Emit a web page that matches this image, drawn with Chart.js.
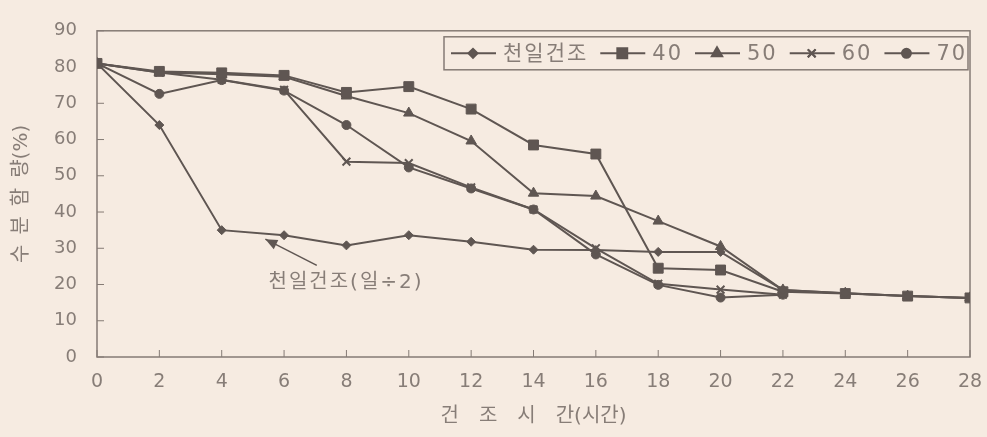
<!DOCTYPE html>
<html>
<head>
<meta charset="utf-8">
<script src="https://cdn.jsdelivr.net/npm/chart.js@4"></script>
<style>
  html, body { margin: 0; padding: 0; background: #f6ebe1; }
  canvas { display: block; }
</style>
</head>
<body>
<canvas id="drying-chart" width="987" height="437"></canvas>
<script>
// drying time (hours) vs moisture content (%)
const hours = [0, 2, 4, 6, 8, 10, 12, 14, 16, 18, 20, 22, 24, 26, 28];
const seriesNames = ['천일건조', '40', '50', '60', '70'];

const sunDry = [81, 64, 35, 33.6, 30.8, 33.6, 31.8, 29.6, 29.5, 29, 29, 18.5, 17.6, 16.8, 16.3];
const dry40 = [81, 78.8, 78.4, 77.7, 73, 74.6, 68.4, 58.5, 56, 24.5, 24, 18, 17.5, 16.8, 16.3];
const dry50 = [81, 78.5, 78, 77.3, 72, 67.3, 59.6, 45.2, 44.4, 37.5, 30.5, 18.5, 17.6, 16.8, 16.3];
const dry60 = [81, 78.5, 76.5, 73.7, 53.9, 53.5, 46.8, 40.7, 30, 20.2, 18.6, 17.2];
const dry70 = [81, 72.6, 76.4, 73.5, 64, 52.3, 46.5, 40.7, 28.3, 19.9, 16.4, 17.2];

const xTitle = '건\u2003조\u2003시\u2003간(시간)';
const yTitle = '수\u2002분\u2002함\u2002량(%)';

// label + arrow pointing at the sun-dried line
const note = { text: '천일건조(일÷2)', x: 5.5, y: 20.6, fromX: 7.05, fromY: 25.3, toX: 5.4, toY: 32.5 };

const ink = '#5f5652';
const textGray = '#877d77';
const bg = '#f6ebe1';
const fontFamily = '"DejaVu Sans", "Noto Sans CJK KR", sans-serif';

function toPoints(values) {
    return values.map((v, i) => ({ x: hours[i], y: v }));
}

const markers = [
    { style: 'rectRot', radius: 4.5 },
    { style: 'rect', radius: 7 },
    { style: 'triangle', radius: 6 },
    { style: 'crossRot', radius: 5.5 },
    { style: 'circle', radius: 4.5 }
];

const datasets = [sunDry, dry40, dry50, dry60, dry70].map((vals, i) => ({
    label: seriesNames[i],
    data: toPoints(vals),
    borderColor: ink,
    backgroundColor: ink,
    borderWidth: 2,
    pointStyle: markers[i].style,
    pointRadius: markers[i].radius,
    pointBorderWidth: markers[i].style === 'crossRot' ? 2 : 1,
    pointBackgroundColor: ink,
    pointBorderColor: ink,
    tension: 0
}));

const framePlugin = {
    id: 'frame',
    beforeDatasetsDraw(chart) {
        const ctx = chart.ctx;
        const a = chart.chartArea;
        const xs = chart.scales.x, ys = chart.scales.y;
        ctx.save();
        ctx.strokeStyle = '#857b75';
        ctx.lineWidth = 1.5;
        ctx.strokeRect(a.left, a.top, a.right - a.left, a.bottom - a.top);
        ctx.lineWidth = 1;
        ctx.beginPath();
        xs.ticks.forEach(t => {
            const px = xs.getPixelForValue(t.value);
            ctx.moveTo(px, a.bottom);
            ctx.lineTo(px, a.bottom - 7);
        });
        ys.ticks.forEach(t => {
            const py = ys.getPixelForValue(t.value);
            ctx.moveTo(a.left, py);
            ctx.lineTo(a.left + 7, py);
        });
        ctx.stroke();
        ctx.restore();
    },
    afterDatasetsDraw(chart) {
        const ctx = chart.ctx;
        const a = chart.chartArea;
        const xs = chart.scales.x, ys = chart.scales.y;
        ctx.save();

        // legend box in the top right corner
        const boxTop = a.top + 6, boxBottom = a.top + 39;
        const boxLeft = 444, boxRight = a.right - 2;
        ctx.fillStyle = bg;
        ctx.fillRect(boxLeft, boxTop, boxRight - boxLeft, boxBottom - boxTop);
        ctx.strokeStyle = '#857b75';
        ctx.lineWidth = 1.5;
        ctx.strokeRect(boxLeft, boxTop, boxRight - boxLeft, boxBottom - boxTop);

        ctx.font = '21px ' + fontFamily;
        ctx.letterSpacing = '2px';
        ctx.textBaseline = 'middle';
        const cy = (boxTop + boxBottom) / 2;
        let x = boxLeft + 7;
        chart.data.datasets.forEach((ds, i) => {
            ctx.strokeStyle = ink;
            ctx.lineWidth = 2;
            ctx.beginPath();
            ctx.moveTo(x, cy);
            ctx.lineTo(x + 45, cy);
            ctx.stroke();
            Chart.helpers.drawPoint(ctx, {
                pointStyle: ds.pointStyle,
                radius: ds.pointRadius,
                borderWidth: ds.pointBorderWidth
            }, x + 22, cy);
            if (ds.pointStyle === 'crossRot') {
                ctx.stroke();
            } else {
                ctx.fillStyle = ink;
                ctx.fill();
            }
            ctx.fillStyle = textGray;
            ctx.fillText(ds.label, x + 52, cy + 1);
            x += 52 + ctx.measureText(ds.label).width + 12;
        });

        // annotation arrow and label
        const fx = xs.getPixelForValue(note.fromX), fy = ys.getPixelForValue(note.fromY);
        const tx = xs.getPixelForValue(note.toX), ty = ys.getPixelForValue(note.toY);
        ctx.strokeStyle = ink;
        ctx.fillStyle = ink;
        ctx.lineWidth = 1.5;
        ctx.beginPath();
        ctx.moveTo(fx, fy);
        ctx.lineTo(tx, ty);
        ctx.stroke();
        const ang = Math.atan2(ty - fy, tx - fx);
        ctx.beginPath();
        ctx.moveTo(tx, ty);
        ctx.lineTo(tx - 13 * Math.cos(ang - 0.4), ty - 13 * Math.sin(ang - 0.4));
        ctx.lineTo(tx - 13 * Math.cos(ang + 0.4), ty - 13 * Math.sin(ang + 0.4));
        ctx.closePath();
        ctx.fill();

        ctx.font = '20px ' + fontFamily;
        ctx.letterSpacing = '2px';
        ctx.fillStyle = textGray;
        ctx.textAlign = 'left';
        ctx.fillText(note.text, xs.getPixelForValue(note.x), ys.getPixelForValue(note.y));
        ctx.restore();
    }
};

Chart.defaults.font.family = fontFamily;
Chart.defaults.color = textGray;

let dryingElement = document.getElementById('drying-chart').getContext('2d');

let dryingChart = new Chart(dryingElement, {
    type: 'line',
    data: { datasets: datasets },
    options: {
        responsive: false,
        animation: false,
        layout: { padding: { top: 17, right: 0, left: 0, bottom: 0 } },
        plugins: {
            legend: { display: false },
            tooltip: { enabled: false }
        },
        scales: {
            x: {
                type: 'linear',
                min: 0,
                max: 28,
                afterFit: s => { s.height = 80; s.paddingRight = 17; },
                ticks: { stepSize: 2, padding: 14, font: { size: 19 }, color: textGray },
                grid: { display: false, drawTicks: false },
                border: { display: false },
                title: { display: true, text: xTitle, font: { size: 20 }, color: textGray, padding: { top: 0, bottom: 8 } }
            },
            y: {
                min: 0,
                max: 90,
                afterFit: s => { s.width = 97; },
                ticks: { stepSize: 10, padding: 20, font: { size: 18 }, color: textGray },
                grid: { display: false, drawTicks: false },
                border: { display: false },
                title: { display: true, text: yTitle, font: { size: 20 }, color: textGray, padding: { top: 10, bottom: 0 } }
            }
        }
    },
    plugins: [framePlugin]
});
</script>
</body>
</html>
